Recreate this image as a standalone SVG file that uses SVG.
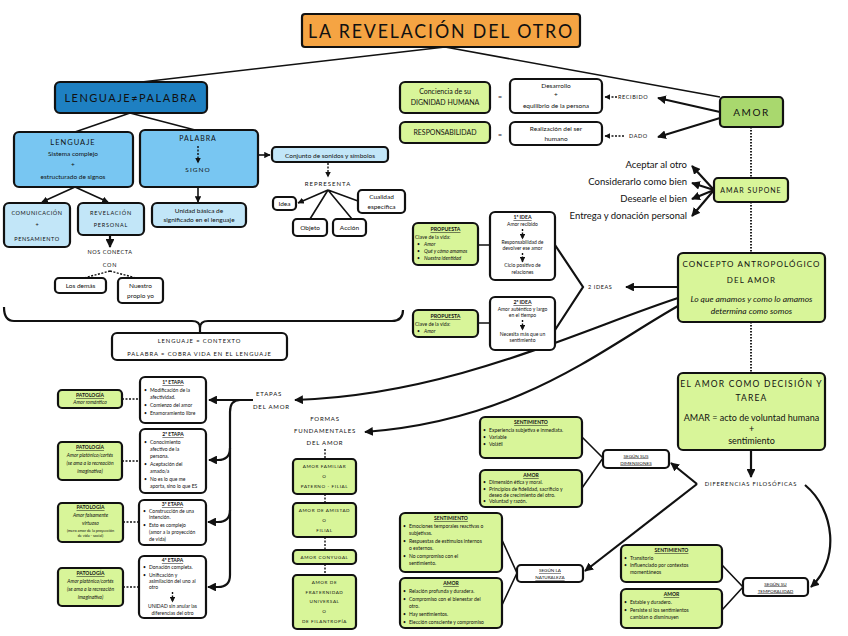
<svg xmlns="http://www.w3.org/2000/svg" width="848" height="636" viewBox="0 0 848 636">
<defs>
<marker id="ah" viewBox="0 0 10 10" refX="9" refY="5" markerWidth="4" markerHeight="4" orient="auto-start-reverse"><path d="M0,0 L10,5 L0,10 z" fill="#111"/></marker>
<style>
.b{stroke:#111;stroke-width:2.2}
.g{fill:#d8f599}
.gd{fill:#a9d86e}
.lb{fill:#78c6f2}
.vb{fill:#c2e6f8}
.w{fill:#fff}
.c{fill:none;stroke:#111;stroke-width:1.6}
.ct{fill:none;stroke:#111;stroke-width:2.2}
.cd{fill:none;stroke:#111;stroke-width:1.4;stroke-dasharray:2,1.5}
.dot{fill:none;stroke:#222;stroke-width:2;stroke-dasharray:1.5,1.5}
text{font-family:Lato,"Liberation Sans",sans-serif;fill:#111}
.m{text-anchor:middle}
.sp{letter-spacing:1px}
.u{text-decoration:underline;font-weight:bold}
.i{font-style:italic}
</style>
</defs>
<rect width="848" height="636" fill="#fff"/>

<g id="connectors">
<path class="c" d="M445,47 L133,83"/>
<path class="c" d="M445,47 L720,97"/>
<path class="c" d="M130,113 L75,132"/>
<path class="c" d="M130,113 L195,130"/>
<path class="c" d="M258,155 L270,155" marker-end="url(#ah)"/>
<path class="c" d="M198,187 L198,202" marker-end="url(#ah)"/>
<path class="c" d="M75,187 L42,202" marker-end="url(#ah)"/>
<path class="c" d="M75,187 L108,202" marker-end="url(#ah)"/>
<path class="ct" d="M110,236 L110,247" marker-end="url(#ah)"/>
<path class="cd" d="M110,271 L80,279 M110,271 L140,279"/>
<path class="cd" d="M328,163 L328,177" marker-end="url(#ah)"/>
<path class="c" d="M328,190 L298,203" marker-end="url(#ah)"/>
<path class="c" d="M328,190 L310,219 M328,190 L352,219 M328,190 L358,201"/>
<path class="ct" d="M4,307 Q4,321 14,321 L192,321 Q200,321 200,328 Q200,321 208,321 L392,321 Q403,321 403,310"/>
<path class="ct" d="M200,328 L200,333"/>
<path class="cd" d="M617,97 L605,97" marker-end="url(#ah)"/>
<path class="cd" d="M624,136 L605,136" marker-end="url(#ah)"/>
<path class="ct" d="M720,112 L658,98" marker-end="url(#ah)"/>
<path class="ct" d="M720,118 L658,137" marker-end="url(#ah)"/>
<path class="dot" d="M751,127 L751,178 M751,202 L751,253 M751,322 L751,373"/>
<path class="ct" d="M714,190 L692,166" marker-end="url(#ah)"/>
<path class="ct" d="M714,190 L692,183" marker-end="url(#ah)"/>
<path class="ct" d="M714,190 L692,199" marker-end="url(#ah)"/>
<path class="ct" d="M714,190 L692,216" marker-end="url(#ah)"/>
<path class="ct" d="M677,287 L626,287" marker-end="url(#ah)"/>
<path class="ct" d="M555,245 L583,287 L555,330"/>
<path class="c" d="M478,245 L490,245 M478,323 L490,323"/>
<path class="ct" d="M678,298 C580,330 450,395 295,400" marker-end="url(#ah)"/>
<path class="ct" d="M678,306 C600,350 520,420 365,432" marker-end="url(#ah)"/>
<path class="ct" d="M253,400 L209,400" marker-end="url(#ah)"/>
<path class="ct" d="M240,400 Q230,400 230,412 L230,448 Q230,460 218,460 L209,460" marker-end="url(#ah)"/>
<path class="ct" d="M230,448 L230,510 Q230,522 218,522 L208,522" marker-end="url(#ah)"/>
<path class="ct" d="M230,510 L230,575 Q230,587 218,587 L208,587" marker-end="url(#ah)"/>
<path class="cd" d="M122,399 L140,399 M122,461 L140,461 M123,522 L139,522 M123,587 L139,587"/>
<path class="cd" d="M325,449 L325,459 M325,494 L325,503 M325,537 L325,550 M325,564 L325,575"/>
<path class="ct" d="M751,450 L751,477" marker-end="url(#ah)"/>
<path class="ct" d="M697,484 L671,463" marker-end="url(#ah)"/>
<path class="ct" d="M697,484 L585,571" marker-end="url(#ah)"/>
<path class="ct" d="M805,485 C835,510 840,560 811,587" marker-end="url(#ah)"/>
<path class="c" d="M603,458 L582,437 M603,458 L582,488"/>
<path class="c" d="M517,573 L502,540 M517,573 L502,605"/>
<path class="c" d="M743,587 L722,565 M743,587 L722,610"/>
</g>

<g id="title"><rect class="b" x="302" y="14" width="278" height="33" rx="3" fill="#f5a443" stroke-width="3"/><text class="m" x="441" y="38" font-size="19" letter-spacing="2" textLength="266" lengthAdjust="spacingAndGlyphs">LA REVELACIÓN DEL OTRO</text></g>

<g id="lenguaje-palabra"><rect class="b" x="55" y="82" width="152" height="31" rx="5" fill="#1e80c2"/><text class="m" x="131" y="102" font-size="11" letter-spacing="1.5">LENGUAJE≠PALABRA</text></g>

<g id="lenguaje"><rect class="b lb" x="14" y="132" width="119" height="55" rx="5"/>
<text class="m sp" x="73" y="145" font-size="7.5">LENGUAJE</text>
<text class="m" x="73" y="156" font-size="6.5">Sistema complejo</text>
<text class="m" x="73" y="167" font-size="6.5">+</text>
<text class="m" x="73" y="179" font-size="6.5">estructurado de signos</text></g>

<g id="palabra"><rect class="b lb" x="140" y="130" width="118" height="57" rx="5"/>
<text class="m sp" x="198" y="141" font-size="7">PALABRA</text>
<path class="cd" d="M198,146 L198,163" marker-end="url(#ah)"/>
<text class="m sp" x="198" y="172" font-size="6.5">SIGNO</text></g>

<g id="conjunto"><rect class="b vb" x="272" y="147" width="116" height="15" rx="4"/><text class="m" x="330" y="157.5" font-size="6.5">Conjunto de sonidos y símbolos</text></g>
<text class="m sp" x="328" y="186" font-size="6">REPRESENTA</text>
<g id="idea"><rect class="b w" x="273" y="197" width="23" height="13" rx="4" stroke-width="1.8"/><text class="m" x="284.5" y="206" font-size="6.5">Idea</text></g>
<g id="objeto"><rect class="b w" x="293" y="219" width="34" height="17" rx="4" stroke-width="1.8"/><text class="m" x="310" y="230" font-size="6.5">Objeto</text></g>
<g id="accion"><rect class="b w" x="333" y="219" width="33" height="17" rx="4" stroke-width="1.8"/><text class="m" x="349.5" y="230" font-size="6.5">Acción</text></g>
<g id="cualidad"><rect class="b w" x="358" y="190" width="47" height="23" rx="4" stroke-width="1.8"/><text class="m" x="381.5" y="199" font-size="6.5">Cualidad</text><text class="m" x="381.5" y="209" font-size="6.5">específica</text></g>

<g id="comunicacion"><rect class="b vb" x="4" y="203" width="66" height="44" rx="5"/>
<text class="m" x="37" y="215" font-size="5.5" letter-spacing="0.6">COMUNICACIÓN</text>
<text class="m" x="37" y="227" font-size="5.5">+</text>
<text class="m" x="37" y="241" font-size="5.5" letter-spacing="0.6">PENSAMIENTO</text></g>
<g id="revelacion"><rect class="b vb" x="78" y="203" width="66" height="32" rx="5"/>
<text class="m" x="111" y="215" font-size="5.5" letter-spacing="0.8">REVELACIÓN</text>
<text class="m" x="111" y="227" font-size="5.5" letter-spacing="0.8">PERSONAL</text></g>
<g id="unidad"><rect class="b vb" x="152" y="203" width="94" height="24" rx="5"/>
<text class="m" x="199" y="213" font-size="6.5">Unidad básica de</text>
<text class="m" x="199" y="222" font-size="6.5">significado en el lenguaje</text></g>
<text class="m" x="110" y="254" font-size="5.5" letter-spacing="0.6">NOS CONECTA</text>
<text class="m" x="110" y="267" font-size="5.5" letter-spacing="0.8">CON</text>
<g id="demas"><rect class="b w" x="55" y="278" width="51" height="15" rx="4" stroke-width="1.8"/><text class="m" x="80.5" y="288" font-size="6.5">Los demás</text></g>
<g id="propio"><rect class="b w" x="118" y="278" width="45" height="25" rx="4" stroke-width="1.8"/><text class="m" x="140.5" y="288" font-size="6.5">Nuestro</text><text class="m" x="140.5" y="298" font-size="6.5">propio yo</text></g>
<g id="contexto"><rect class="b w" x="112" y="333" width="175" height="27" rx="5"/>
<text class="m" x="199.5" y="343" font-size="5.8" letter-spacing="0.9">LENGUAJE = CONTEXTO</text>
<text class="m" x="199.5" y="356" font-size="5.8" letter-spacing="0.9">PALABRA = COBRA VIDA EN EL LENGUAJE</text></g>

<g id="conciencia"><rect class="b g" x="400" y="82" width="90" height="31" rx="5"/><text class="m" x="445" y="94" font-size="7">Conciencia de su</text><text class="m" x="445" y="105" font-size="7">DIGNIDAD HUMANA</text></g>
<text class="m" x="500" y="99" font-size="7">=</text>
<g id="desarrollo"><rect class="b w" x="510" y="79" width="92" height="34" rx="5"/><text class="m" x="556" y="88" font-size="6.5">Desarrollo</text><text class="m" x="556" y="97" font-size="6.5">+</text><text class="m" x="556" y="108" font-size="6.5">equilibrio de la persona</text></g>
<text x="618" y="99" font-size="5.5" letter-spacing="0.6">RECIBIDO</text>
<g id="responsabilidad"><rect class="b g" x="400" y="122" width="90" height="21" rx="5"/><text class="m" x="445" y="135" font-size="7">RESPONSABILIDAD</text></g>
<text class="m" x="500" y="137" font-size="7">=</text>
<g id="realizacion"><rect class="b w" x="510" y="122" width="92" height="23" rx="5"/><text class="m" x="556" y="131" font-size="6.5">Realización del ser</text><text class="m" x="556" y="141" font-size="6.5">humano</text></g>
<text x="629" y="138" font-size="5.5" letter-spacing="0.6">DADO</text>

<g id="amor"><rect class="b gd" x="720" y="97" width="63" height="30" rx="4"/><text class="m" x="751.5" y="116" font-size="10" letter-spacing="1.5">AMOR</text></g>
<g id="amar-supone"><rect class="b g" x="714" y="178" width="74" height="24" rx="4"/><text class="m" x="751" y="193" font-size="7" letter-spacing="1">AMAR SUPONE</text></g>
<g font-size="9.5" text-anchor="end"><text x="687" y="168">Aceptar al otro</text><text x="687" y="185">Considerarlo como bien</text><text x="687" y="202">Desearle el bien</text><text x="687" y="219">Entrega y donación personal</text></g>

<g id="concepto"><rect class="b g" x="678" y="253" width="147" height="69" rx="5"/>
<text class="m" x="751.5" y="267" font-size="8" letter-spacing="1.1">CONCEPTO ANTROPOLÓGICO</text>
<text class="m" x="751.5" y="283" font-size="8" letter-spacing="1.1">DEL AMOR</text>
<text class="m i" x="751.5" y="302" font-size="8.5">Lo que amamos y como lo amamos</text>
<text class="m i" x="751.5" y="314" font-size="8.5">determina como somos</text></g>
<text x="588" y="289" font-size="5.5" letter-spacing="0.6">2 IDEAS</text>

<g id="idea1"><rect class="b w" x="490" y="212" width="65" height="68" rx="5"/>
<text class="m u" x="522.5" y="219" font-size="5.2">1ª IDEA</text>
<text class="m" x="522.5" y="226" font-size="5">Amor recibido</text>
<path class="cd" d="M522.5,229 L522.5,239" marker-end="url(#ah)"/>
<text class="m" x="522.5" y="244" font-size="5">Responsabilidad de</text>
<text class="m" x="522.5" y="250" font-size="5">devolver ese amor</text>
<path class="cd" d="M522.5,253 L522.5,262" marker-end="url(#ah)"/>
<text class="m" x="522.5" y="267" font-size="5">Ciclo positivo de</text>
<text class="m" x="522.5" y="274" font-size="5">relaciones</text></g>
<g id="idea2"><rect class="b w" x="490" y="297" width="65" height="53" rx="5"/>
<text class="m u" x="522.5" y="304" font-size="5.2">2ª IDEA</text>
<text class="m" x="522.5" y="311" font-size="5">Amor auténtico y largo</text>
<text class="m" x="522.5" y="317" font-size="5">en el tiempo</text>
<path class="cd" d="M522.5,320 L522.5,330" marker-end="url(#ah)"/>
<text class="m" x="522.5" y="336" font-size="5">Necesita más que un</text>
<text class="m" x="522.5" y="342" font-size="5">sentimiento</text></g>
<g id="propuesta1"><rect class="b g" x="413" y="223" width="65" height="42" rx="5"/>
<text class="m u" x="445.5" y="231" font-size="5.2">PROPUESTA</text>
<text x="415" y="239" font-size="5">Clave de la vida:</text>
<text x="417" y="246" font-size="5">•</text><text class="i" x="424" y="246" font-size="5">Amor</text>
<text x="417" y="253" font-size="5">•</text><text class="i" x="424" y="253" font-size="5">Qué y cómo amamos</text>
<text x="417" y="260" font-size="5">•</text><text class="i" x="424" y="260" font-size="5">Nuestra identidad</text></g>
<g id="propuesta2"><rect class="b g" x="413" y="310" width="65" height="27" rx="5"/>
<text class="m u" x="445.5" y="318" font-size="5.2">PROPUESTA</text>
<text x="415" y="326" font-size="5">Clave de la vida:</text>
<text x="417" y="333" font-size="5">•</text><text class="i" x="424" y="333" font-size="5">Amor</text></g>

<text x="256" y="396" font-size="6" letter-spacing="0.8">ETAPAS</text>
<text x="253" y="409" font-size="6" letter-spacing="0.8">DEL AMOR</text>

<g id="etapa1" font-size="5"><rect class="b w" x="140" y="377" width="66" height="46" rx="5"/>
<text class="m u" x="173" y="384">1ª ETAPA</text>
<text x="144" y="392">•</text><text x="150" y="392">Modificación de la</text><text x="150" y="399">afectividad.</text>
<text x="144" y="407">•</text><text x="150" y="407">Comienzo del amor</text>
<text x="144" y="415">•</text><text x="150" y="415">Enamoramiento libre</text></g>
<g id="etapa2" font-size="5"><rect class="b w" x="140" y="429" width="66" height="64" rx="5"/>
<text class="m u" x="173" y="436">2ª ETAPA</text>
<text x="144" y="444">•</text><text x="150" y="444">Conocimiento</text><text x="150" y="451">afectivo de la</text><text x="150" y="458">persona.</text>
<text x="144" y="466">•</text><text x="150" y="466">Aceptación del</text><text x="150" y="473">amado/a</text>
<text x="144" y="481">•</text><text x="150" y="481">No es lo que me</text><text x="150" y="488">aporta, sino lo que ES</text></g>
<g id="etapa3" font-size="5"><rect class="b w" x="139" y="500" width="67" height="45" rx="5"/>
<text class="m u" x="172.5" y="506">3ª ETAPA</text>
<text x="143" y="513">•</text><text x="149" y="513">Construcción de una</text><text x="149" y="519">intención.</text>
<text x="143" y="527">•</text><text x="149" y="527">Esto es complejo</text><text x="149" y="534">(amor a la proyección</text><text x="149" y="541">de vida)</text></g>
<g id="etapa4" font-size="5"><rect class="b w" x="139" y="556" width="67" height="62" rx="5"/>
<text class="m u" x="172.5" y="562">4ª ETAPA</text>
<text x="143" y="569">•</text><text x="149" y="569">Donación completa.</text>
<text x="143" y="577">•</text><text x="149" y="577">Unificación y</text><text x="149" y="583">asimilación del uno al</text><text x="149" y="589">otro</text>
<path class="cd" d="M172.5,592 L172.5,602" marker-end="url(#ah)"/>
<text class="m" x="172.5" y="608">UNIDAD sin anular las</text><text class="m" x="172.5" y="615">diferencias del otro</text></g>

<g id="patologia1" font-size="5"><rect class="b g" x="58" y="390" width="64" height="18" rx="4"/>
<text class="m u" x="90" y="397">PATOLOGÍA</text><text class="m i" x="90" y="404">Amor romántico</text></g>
<g id="patologia2" font-size="5"><rect class="b g" x="58" y="442" width="64" height="38" rx="4"/>
<text class="m u" x="90" y="449">PATOLOGÍA</text><text class="m i" x="90" y="457">Amor platónico/cortés</text><text class="m i" x="90" y="465">(se ama a la recreación</text><text class="m i" x="90" y="473">imaginativa)</text></g>
<g id="patologia3" font-size="5"><rect class="b g" x="58" y="503" width="65" height="39" rx="4"/>
<text class="m u" x="90.5" y="509">PATOLOGÍA</text><text class="m i" x="90.5" y="517">Amor falsamente</text><text class="m i" x="90.5" y="525">virtuoso</text><text class="m" x="90.5" y="532" font-size="3.8">(mero amor de la proyección</text><text class="m" x="90.5" y="537" font-size="3.8">de vida - social)</text></g>
<g id="patologia4" font-size="5"><rect class="b g" x="58" y="568" width="65" height="38" rx="4"/>
<text class="m u" x="90.5" y="575">PATOLOGÍA</text><text class="m i" x="90.5" y="583">Amor platónico/cortés</text><text class="m i" x="90.5" y="591">(se ama a la recreación</text><text class="m i" x="90.5" y="599">imaginativa)</text></g>

<text class="m" x="325" y="421" font-size="6" letter-spacing="0.8">FORMAS</text>
<text class="m" x="325" y="433" font-size="6" letter-spacing="0.8">FUNDAMENTALES</text>
<text class="m" x="325" y="445" font-size="6" letter-spacing="0.8">DEL AMOR</text>
<g id="familiar" font-size="4.6" letter-spacing="0.6"><rect class="b g" x="293" y="459" width="63" height="35" rx="4"/>
<text class="m" x="324.5" y="468">AMOR FAMILIAR</text><text class="m" x="324.5" y="478">O</text><text class="m" x="324.5" y="488">PATERNO - FILIAL</text></g>
<g id="amistad" font-size="4.6" letter-spacing="0.6"><rect class="b g" x="293" y="503" width="63" height="34" rx="4"/>
<text class="m" x="324.5" y="512">AMOR DE AMISTAD</text><text class="m" x="324.5" y="522">O</text><text class="m" x="324.5" y="532">FILIAL</text></g>
<g id="conyugal" font-size="4.6" letter-spacing="0.6"><rect class="b g" x="293" y="550" width="63" height="14" rx="4"/>
<text class="m" x="324.5" y="559">AMOR CONYUGAL</text></g>
<g id="fraternidad" font-size="4.6" letter-spacing="0.6"><rect class="b g" x="293" y="575" width="63" height="54" rx="4"/>
<text class="m" x="324.5" y="584">AMOR DE</text><text class="m" x="324.5" y="594">FRATERNIDAD</text><text class="m" x="324.5" y="603">UNIVERSAL</text><text class="m" x="324.5" y="613">O</text><text class="m" x="324.5" y="623">DE FILANTROPÍA</text></g>

<g id="decision"><rect class="b g" x="678" y="373" width="147" height="77" rx="5"/>
<text class="m" x="751.5" y="387" font-size="8.5" letter-spacing="1.2">EL AMOR COMO DECISIÓN Y</text>
<text class="m" x="751.5" y="401" font-size="8.5" letter-spacing="1.2">TAREA</text>
<text class="m" x="751.5" y="421" font-size="9">AMAR = acto de voluntad humana</text>
<text class="m" x="751.5" y="432" font-size="9">+</text>
<text class="m" x="751.5" y="444" font-size="9">sentimiento</text></g>
<text class="m" x="751" y="486" font-size="5.8" letter-spacing="0.8">DIFERENCIAS FILOSÓFICAS</text>

<g id="dimensiones"><rect class="b w" x="603" y="450" width="66" height="18" rx="4"/><text class="m" x="636" y="457.5" font-size="4.6" text-decoration="underline">SEGÚN SUS</text><text class="m" x="636" y="464.5" font-size="4.6" text-decoration="underline">DIMENSIONES</text></g>
<g id="sentimiento1" font-size="5"><rect class="b g" x="480" y="417" width="102" height="41" rx="5"/>
<text class="m u" x="531" y="424">SENTIMIENTO</text>
<text x="483" y="432">•</text><text x="489" y="432">Experiencia subjetiva e inmediata.</text>
<text x="483" y="439">•</text><text x="489" y="439">Variable</text>
<text x="483" y="446">•</text><text x="489" y="446">Volátil</text></g>
<g id="amor1" font-size="5"><rect class="b g" x="480" y="470" width="102" height="37" rx="5"/>
<text class="m u" x="531" y="477">AMOR</text>
<text x="483" y="484">•</text><text x="489" y="484">Dimensión ética y moral.</text>
<text x="483" y="491">•</text><text x="489" y="491">Principios de fidelidad, sacrificio y</text><text x="489" y="497">deseo de crecimiento del otro.</text>
<text x="483" y="503">•</text><text x="489" y="503">Voluntad y razón.</text></g>

<g id="naturaleza"><rect class="b w" x="517" y="565" width="66" height="17" rx="4"/><text class="m" x="550" y="572" font-size="4.6" text-decoration="underline">SEGÚN LA</text><text class="m" x="550" y="579" font-size="4.6" text-decoration="underline">NATURALEZA</text></g>
<g id="sentimiento2" font-size="5"><rect class="b g" x="400" y="513" width="102" height="59" rx="5"/>
<text class="m u" x="451" y="520">SENTIMIENTO</text>
<text x="403" y="528">•</text><text x="409" y="528">Emociones temporales reactivas o</text><text x="409" y="535">subjetivas.</text>
<text x="403" y="543">•</text><text x="409" y="543">Respuestas de estímulos internos</text><text x="409" y="550">o externos.</text>
<text x="403" y="558">•</text><text x="409" y="558">No compromiso con el</text><text x="409" y="565">sentimiento.</text></g>
<g id="amor2" font-size="5"><rect class="b g" x="400" y="578" width="102" height="50" rx="5"/>
<text class="m u" x="451" y="585">AMOR</text>
<text x="403" y="593">•</text><text x="409" y="593">Relación profunda y duradera.</text>
<text x="403" y="601">•</text><text x="409" y="601">Compromiso con el bienestar del</text><text x="409" y="608">otro.</text>
<text x="403" y="616">•</text><text x="409" y="616">Hay sentimientos.</text>
<text x="403" y="624">•</text><text x="409" y="624">Elección consciente y compromiso</text></g>

<g id="temporalidad"><rect class="b w" x="743" y="578" width="65" height="18" rx="4"/><text class="m" x="775.5" y="585.5" font-size="4.6" text-decoration="underline">SEGÚN SU</text><text class="m" x="775.5" y="592.5" font-size="4.6" text-decoration="underline">TEMPORALIDAD</text></g>
<g id="sentimiento3" font-size="5"><rect class="b g" x="621" y="545" width="101" height="37" rx="5"/>
<text class="m u" x="671.5" y="552">SENTIMIENTO</text>
<text x="624" y="560">•</text><text x="630" y="560">Transitorio</text>
<text x="624" y="567">•</text><text x="630" y="567">Influenciado por contextos</text><text x="630" y="574">momentáneos</text></g>
<g id="amor3" font-size="5"><rect class="b g" x="621" y="589" width="101" height="39" rx="5"/>
<text class="m u" x="671.5" y="596">AMOR</text>
<text x="624" y="604">•</text><text x="630" y="604">Estable y duradero.</text>
<text x="624" y="612">•</text><text x="630" y="612">Persiste si los sentimientos</text><text x="630" y="619">cambian o disminuyen</text></g>
</svg>
